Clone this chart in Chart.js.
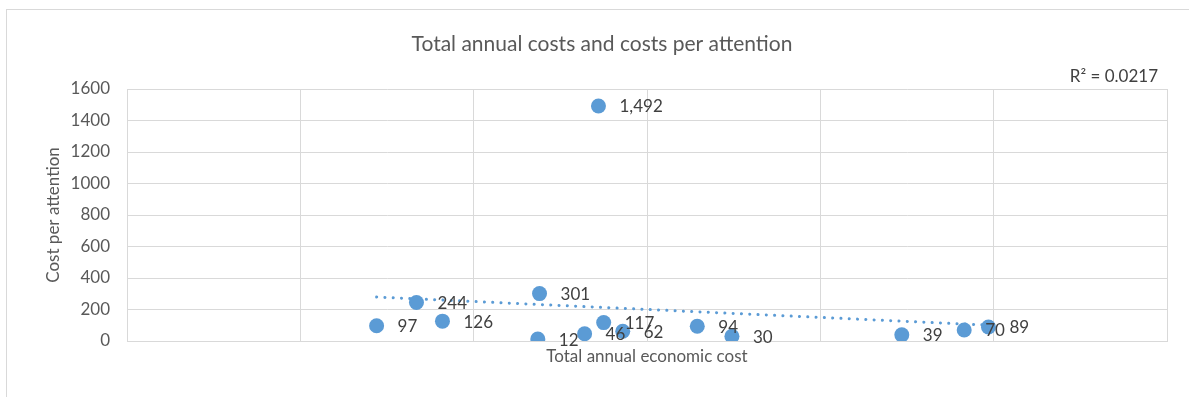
<!DOCTYPE html>
<html>
<head>
<meta charset="utf-8">
<title>Total annual costs and costs per attention</title>
<script src="https://cdn.jsdelivr.net/npm/chart.js@4.4.1/dist/chart.umd.min.js"></script>
<style>
    html, body { margin: 0; padding: 0; background: #fff; }
    #wrap { position: relative; width: 1189px; height: 397px; overflow: hidden; }
    #frame { position: absolute; left: 6px; top: 9px; width: 1400px; height: 600px; border: 1px solid #d9d9d9; }
    #costChart { position: absolute; left: 0; top: 0; }
</style>
</head>
<body>
<div id="wrap">
    <div id="frame"></div>
    <canvas id="costChart" width="1189" height="397"></canvas>
</div>
<script>
// --------------------
// Data
// --------------------
// x = total annual economic cost (axis units, labels hidden), y = cost per attention
const annualCost = [14.4, 16.7, 18.2, 23.8, 23.7, 26.4, 27.2, 27.5, 28.6, 32.9, 34.9, 44.7, 48.3, 49.7];
const costPerAttention = [97, 244, 126, 301, 12, 46, 1492, 117, 62, 94, 30, 39, 70, 89];
const xGridValues = [0, 10, 20, 30, 40, 50, 60];
const yTickValues = [0, 200, 400, 600, 800, 1000, 1200, 1400, 1600];
const rSquaredText = "R² = 0.0217";

const BLUE = "#5b9bd5";
const GRID = "#d9d9d9";
const TEXT = "#595959";
const LABEL = "#404040";

// --------------------
// Linear trendline (least squares)
// --------------------
function trendline(xs, ys) {
    const n = xs.length;
    const mx = xs.reduce((a, b) => a + b, 0) / n;
    const my = ys.reduce((a, b) => a + b, 0) / n;
    let sxy = 0, sxx = 0;
    for (let i = 0; i < n; i++) {
        sxy += (xs[i] - mx) * (ys[i] - my);
        sxx += (xs[i] - mx) ** 2;
    }
    const slope = sxy / sxx;
    const x0 = Math.min(...xs);
    const x1 = Math.max(...xs);
    return [
        { x: x0, y: my + slope * (x0 - mx) },
        { x: x1, y: my + slope * (x1 - mx) }
    ];
}

// --------------------
// Value labels + R² text
// --------------------
const pointLabels = {
    id: "pointLabels",
    afterDatasetsDraw(chart) {
        const ctx = chart.ctx;
        const meta = chart.getDatasetMeta(0);
        ctx.save();
        ctx.font = "17px Lato";
        ctx.fillStyle = LABEL;
        ctx.textAlign = "left";
        ctx.textBaseline = "middle";
        meta.data.forEach((pt, i) => {
            ctx.fillText(costPerAttention[i].toLocaleString("en-US"), pt.x + 21, pt.y + 1);
        });

        ctx.textAlign = "right";
        ctx.fillText(rSquaredText, chart.chartArea.right - 9, chart.chartArea.top - 12);
        ctx.restore();
    }
};

function drawChart() {
    Chart.defaults.font.family = "Lato";

    const points = annualCost.map((x, i) => ({ x, y: costPerAttention[i] }));

    new Chart(document.getElementById("costChart"), {
        type: "scatter",
        data: {
            datasets: [{
                data: points,
                backgroundColor: BLUE,
                borderColor: BLUE,
                borderWidth: 0,
                pointRadius: 7.5,
                pointHoverRadius: 7.5
            }, {
                type: "line",
                data: trendline(annualCost, costPerAttention),
                borderColor: BLUE,
                borderWidth: 3,
                borderDash: [0.1, 8.2],
                borderCapStyle: "round",
                pointRadius: 0,
                fill: false
            }]
        },
        options: {
            responsive: false,
            animation: false,
            layout: { padding: { left: 37, right: 22, top: 0, bottom: 30 } },
            plugins: {
                legend: { display: false },
                tooltip: { enabled: false },
                title: {
                    display: true,
                    text: "Total annual costs and costs per attention",
                    color: TEXT,
                    font: { size: 21, weight: "normal" },
                    padding: { top: 31.4, bottom: 32.4 }
                }
            },
            scales: {
                x: {
                    type: "linear",
                    min: 0,
                    max: 60,
                    afterBuildTicks: s => { s.ticks = xGridValues.map(v => ({ value: v })); },
                    afterFit: s => { s.height = 26; },
                    ticks: { display: false },
                    grid: { color: GRID, drawTicks: false },
                    border: { color: GRID },
                    title: {
                        display: true,
                        text: "Total annual economic cost",
                        color: TEXT,
                        font: { size: 17 },
                        padding: { top: 0, bottom: 0 }
                    }
                },
                y: {
                    min: 0,
                    max: 1600,
                    afterBuildTicks: s => { s.ticks = yTickValues.map(v => ({ value: v })); },
                    afterFit: s => { s.width = 90; },
                    ticks: {
                        color: TEXT,
                        font: { size: 17 },
                        padding: 17,
                        callback: v => String(v)
                    },
                    grid: { color: GRID, drawTicks: false },
                    border: { color: GRID },
                    title: {
                        display: true,
                        text: "Cost per attention",
                        color: TEXT,
                        font: { size: 17 },
                        padding: { top: 6, bottom: 0 }
                    }
                }
            }
        },
        plugins: [pointLabels]
    });
}

document.addEventListener("DOMContentLoaded", drawChart);
</script>
</body>
</html>
